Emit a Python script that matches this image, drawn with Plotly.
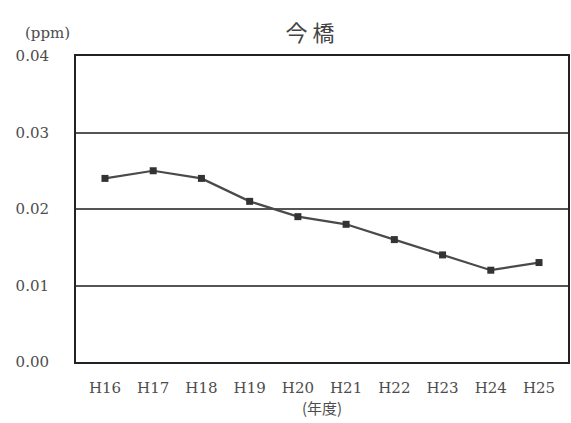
import plotly.graph_objects as go

years = ["H16", "H17", "H18", "H19", "H20", "H21", "H22", "H23", "H24", "H25"]
values = [0.024, 0.025, 0.024, 0.021, 0.019, 0.018, 0.016, 0.014, 0.012, 0.013]
y_ticks = [0.00, 0.01, 0.02, 0.03, 0.04]
y_tick_text = ["0.00", "0.01", "0.02", "0.03", "0.04"]

font_family = "DejaVu Serif, Noto Sans CJK JP, serif"

fig = go.Figure()
fig.add_trace(go.Scatter(
    x=years, y=values, mode="lines+markers",
    line=dict(color="#4a4a4a", width=2.2),
    marker=dict(color="#333333", size=7, symbol="square"),
    showlegend=False,
))

fig.update_layout(
    width=571, height=423,
    margin=dict(l=76, r=3, t=56, b=61),
    paper_bgcolor="white", plot_bgcolor="white",
    font=dict(family=font_family, size=15, color="#4d4d4d"),
    title=dict(text="今 橋", x=0.543, xanchor="center", y=0.922, yanchor="middle",
               font=dict(family="Noto Sans CJK JP", size=22, color="#444444")),
    xaxis=dict(
        automargin=False,
        showgrid=False, showline=True, linecolor="#222222", linewidth=2, mirror=True,
        ticks="", tickfont=dict(size=15), ticklabelstandoff=11,
        title=dict(text="(年度)", font=dict(family="Noto Sans CJK JP", size=15), standoff=0),
    ),
    yaxis=dict(
        automargin=False,
        range=[0, 0.04], tickvals=y_ticks, ticktext=y_tick_text,
        showgrid=True, gridcolor="#555555", gridwidth=1.5,
        showline=True, linecolor="#222222", linewidth=2, mirror=True,
        ticks="", ticklabelstandoff=22, zeroline=False, tickfont=dict(size=15),
    ),
    annotations=[dict(text="(ppm)", xref="paper", yref="paper", x=-0.108, y=1.0,
                      yshift=23, xanchor="left", yanchor="middle", showarrow=False,
                      font=dict(size=15, color="#4d4d4d"))],
)

fig.write_html("out.html", config={"displayModeBar": False},
               post_script="document.body.style.margin='0';")
